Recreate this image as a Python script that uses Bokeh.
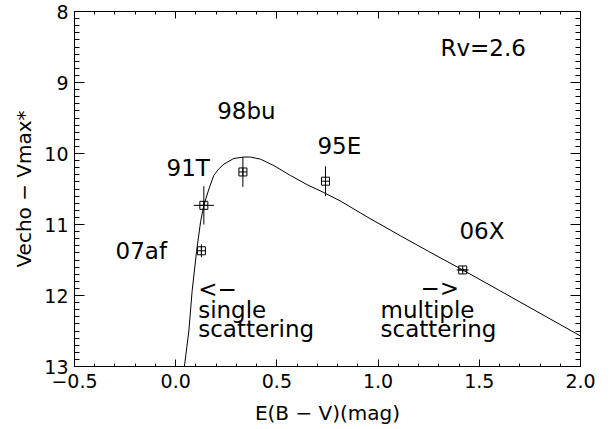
import numpy as np
from bokeh.plotting import figure
from bokeh.models import Range1d, LinearAxis, FixedTicker, ColumnDataSource
from bokeh.core.properties import value
from bokeh.embed import file_html
from bokeh.resources import INLINE

# ---- data ----
curve_ebv = [0.043, 0.065, 0.081, 0.103, 0.123, 0.139, 0.164, 0.188, 0.212, 0.238,
             0.287, 0.336, 0.370, 0.419, 0.485, 0.567, 0.650, 0.732, 0.814, 0.950,
             1.111, 1.250, 1.418, 1.600, 1.800, 2.000]
curve_mag = [13.00, 12.50, 11.94, 11.38, 10.96, 10.73, 10.50, 10.31, 10.22, 10.15,
             10.07, 10.05, 10.05, 10.08, 10.17, 10.31, 10.44, 10.55, 10.67, 10.90,
             11.16, 11.38, 11.64, 11.93, 12.25, 12.57]

sn_names = ["07af", "91T", "98bu", "95E", "06X"]
sn_ebv = [0.127, 0.139, 0.332, 0.740, 1.418]
sn_mag = [11.37, 10.73, 10.26, 10.39, 11.64]
sn_ebv_err = [0.0, 0.05, 0.0, 0.0, 0.03]
sn_mag_err = [0.09, 0.27, 0.21, 0.21, 0.03]

name_x = [-0.297, -0.045, 0.205, 0.700, 1.402]
name_y = [11.49, 10.31, 9.51, 10.01, 11.21]

note_text = ["Rv=2.6", "<\u2212", "single", "scattering", "\u2212>", "multiple", "scattering"]
note_x = [1.308, 0.111, 0.111, 0.111, 1.209, 1.012, 1.012]
note_y = [8.63, 12.02, 12.31, 12.59, 12.01, 12.31, 12.59]

x_ticks = [-0.5, 0.0, 0.5, 1.0, 1.5, 2.0]
x_tick_labels = ["\u22120.5", "0.0", "0.5", "1.0", "1.5", "2.0"]
y_ticks = [8, 9, 10, 11, 12, 13]
y_tick_labels = ["8", "9", "10", "11", "12", "13"]

FONT = "DejaVu Sans"
TICK_FS = "19px"
LAB_FS = "20px"
NOTE_FS = "23px"

p = figure(width=612, height=429, output_backend="svg", toolbar_location=None,
           x_range=Range1d(-0.5, 2.0), y_range=Range1d(13, 8),
           min_border_left=74, min_border_right=32, min_border_top=11,
           min_border_bottom=63, x_axis_location=None, y_axis_location=None)
p.grid.visible = False
p.outline_line_color = "black"
p.background_fill_color = "white"
p.border_fill_color = "white"

x_minor = [round(v, 2) for v in np.arange(-0.5, 2.001, 0.1)]
y_minor = [round(v, 2) for v in np.arange(8, 13.001, 0.1)]


def style(ax, ticks, minor, tick_in, labels=None):
    ax.ticker = FixedTicker(ticks=ticks, minor_ticks=minor)
    ax.major_tick_in = tick_in
    ax.major_tick_out = 0
    ax.minor_tick_in = tick_in // 2
    ax.minor_tick_out = 0
    ax.axis_line_color = "black"
    ax.major_tick_line_color = "black"
    ax.minor_tick_line_color = "black"
    ax.major_label_text_font = FONT
    ax.major_label_text_font_size = TICK_FS
    ax.major_label_text_color = "black"
    if labels is None:
        ax.major_label_overrides = {t: "" for t in ticks}
        ax.major_label_standoff = 0
    else:
        ax.major_label_overrides = {t: l for t, l in zip(ticks, labels)}
        ax.axis_label_text_font = FONT
        ax.axis_label_text_font_size = LAB_FS
        ax.axis_label_text_font_style = "normal"
        ax.axis_label_text_color = "black"


xb = LinearAxis(axis_label="E(B \u2212 V)(mag)")
style(xb, x_ticks, x_minor, 7, x_tick_labels)
xb.major_label_standoff = 7
xb.axis_label_standoff = 10
p.add_layout(xb, "below")

xt = LinearAxis()
style(xt, x_ticks, x_minor, 7)
p.add_layout(xt, "above")

yl = LinearAxis(axis_label="Vecho \u2212 Vmax*")
style(yl, y_ticks, y_minor, 10, y_tick_labels)
yl.major_label_standoff = 6
yl.axis_label_standoff = 5
p.add_layout(yl, "left")

yr = LinearAxis()
style(yr, y_ticks, y_minor, 10)
p.add_layout(yr, "right")

# model curve
p.line(curve_ebv, curve_mag, line_color="black", line_width=1)

# error bars
vy0 = [y - e for y, e in zip(sn_mag, sn_mag_err)]
vy1 = [y + e for y, e in zip(sn_mag, sn_mag_err)]
p.segment(x0=sn_ebv, y0=vy0, x1=sn_ebv, y1=vy1, line_color="black", line_width=1)
hx0 = [x - e for x, e in zip(sn_ebv, sn_ebv_err)]
hx1 = [x + e for x, e in zip(sn_ebv, sn_ebv_err)]
p.segment(x0=hx0, y0=sn_mag, x1=hx1, y1=sn_mag, line_color="black", line_width=1)

# points
p.scatter(sn_ebv, sn_mag, marker="square_cross", size=8, fill_color=None,
          line_color="black", line_width=1)

# names and notes
src = ColumnDataSource(dict(x=name_x, y=name_y, t=sn_names))
p.text(x="x", y="y", text="t", source=src, text_font=value(FONT), text_font_size=value(NOTE_FS),
       text_align="left", text_baseline="alphabetic", text_color="black", y_offset=-8)

src2 = ColumnDataSource(dict(x=note_x, y=note_y, t=note_text))
p.text(x="x", y="y", text="t", source=src2, text_font=value(FONT), text_font_size=value(NOTE_FS),
       text_align="left", text_baseline="alphabetic", text_color="black", y_offset=-8)

open("out.html", "w").write(file_html(p, INLINE))
